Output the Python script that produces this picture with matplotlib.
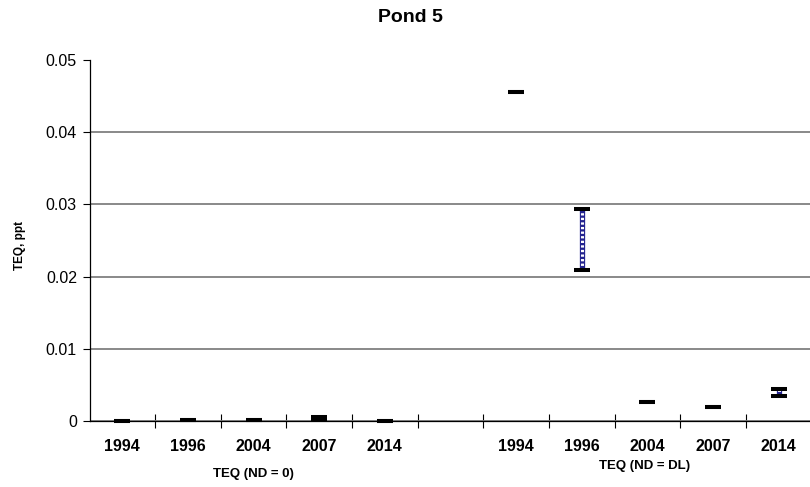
import numpy as np
import matplotlib.pyplot as plt

plt.rcParams['font.family'] = ['Liberation Sans', 'DejaVu Sans']

# TEQ ranges (ppt) per sampling year, ND = 0 then ND = DL, with a blank slot between
years = ['1994', '1996', '2004', '2007', '2014', '', '1994', '1996', '2004', '2007', '2014']
teq_high = [0.00003, 0.00018, 0.0001, 0.00062, 0.00001, np.nan,
            0.0455, 0.0293, 0.0026, 0.0019, 0.0044]
teq_low = [0.00003, 0.00018, 0.0001, 0.00026, 0.00001, np.nan,
           0.0455, 0.0209, 0.0026, 0.0019, 0.0035]
group_labels = ['TEQ (ND = 0)', 'TEQ (ND = DL)']
yticks = [0, 0.01, 0.02, 0.03, 0.04, 0.05]

W, H = 810, 487
fig = plt.figure(figsize=(W / 100, H / 100), dpi=100)
ax = fig.add_axes([89.5 / W, 1 - 421 / H, (811.5 - 89.5) / W, (421 - 60) / H])

x = np.arange(len(years))
high = np.array(teq_high)
low = np.array(teq_low)

# high-low connector: navy band broken up by a fine white dash pattern
span = ~np.isnan(high) & (high - low > 0)
ax.vlines(x[span], low[span], high[span], color='#23238f', linewidth=3.8, zorder=3)
ax.vlines(x[span], low[span], high[span], color='white', linewidth=2.2,
          linestyles=[(0, (0.75, 0.75))], zorder=3)

# high / low dashes
for vals in (high, low):
    ax.plot(x, vals, linestyle='none', marker='_', markersize=11.5,
            markeredgewidth=2.9, color='black', zorder=4, clip_on=False)

ax.set_xlim(-0.5, len(years) - 0.5)
ax.set_ylim(0, 0.05)
ax.set_yticks(yticks)
ax.set_yticklabels(['0' if v == 0 else f'{v:.2f}' for v in yticks], fontsize=11.5)
ax.tick_params(axis='y', direction='out', length=5, width=0.8, pad=4)

# category labels sit between boundary ticks
ax.set_xticks(x[:-1] + 0.5)
ax.set_xticklabels([])
ax.set_xticks(x, minor=True)
ax.set_xticklabels(years, minor=True, fontsize=11.5, fontweight='bold')
ax.tick_params(axis='x', which='major', direction='inout', length=10, width=0.8)
ax.tick_params(axis='x', which='minor', length=0, pad=13)

ax.yaxis.grid(True, color='#808080', linewidth=1.3)
ax.get_ygridlines()[-1].set_visible(False)
ax.set_axisbelow(True)

for side in ('top', 'right'):
    ax.spines[side].set_visible(False)
for side in ('left', 'bottom'):
    ax.spines[side].set_linewidth(0.9)

fig.text(410 / W, 1 - 17.5 / H, 'Pond 5', ha='center', va='center',
         fontsize=14, fontweight='bold')
fig.text(20 / W, 1 - 246 / H, 'TEQ, ppt', ha='center', va='center',
         rotation=90, fontsize=8.5, fontweight='bold')
fig.text(253 / W, 1 - 474 / H, group_labels[0], ha='center', va='center',
         fontsize=9.5, fontweight='bold')
fig.text(645 / W, 1 - 466.5 / H, group_labels[1], ha='center', va='center',
         fontsize=9.5, fontweight='bold')

fig.savefig('out.png', dpi=100)
